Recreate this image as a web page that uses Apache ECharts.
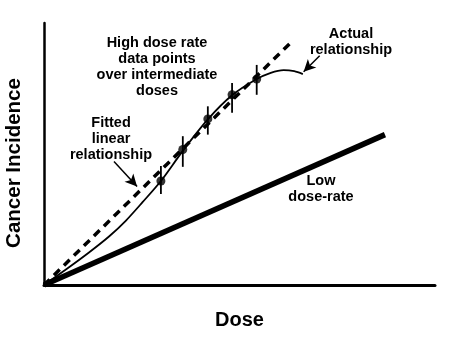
<!DOCTYPE html>
<html>
<head>
<meta charset="utf-8">
<script src="https://cdn.jsdelivr.net/npm/echarts@6/dist/echarts.min.js"></script>
<style>
  html, body { margin: 0; padding: 0; background: #fff; }
  #chart { width: 462px; height: 352px; }
</style>
</head>
<body>
<div id="chart"></div>
<script>
// dose / incidence in arbitrary units (0-100)
const fittedLine = [[0, 0], [63.3, 92.8]];
const lowDoseLine = [[0, 0], [87.2, 57.4]];
const actualCurve = [
  [0, 0], [5.6, 5.9], [11.5, 12.4], [16.7, 18.6], [20.9, 24.5], [25.2, 31.6],
  [29.9, 39.7], [35.5, 51.2], [41.9, 63.2], [48.1, 72.4], [54.4, 78.6],
  [58.0, 81.0], [61.3, 82.0], [64.0, 81.6], [66.2, 80.5]
];
const pointDose = [29.9, 35.5, 41.9, 48.1, 54.4];
const pointValue = [39.7, 51.7, 63.4, 72.6, 78.6];
const errLow = [34.7, 45.1, 57.4, 65.7, 72.6];
const errHigh = [45.4, 56.8, 68.2, 77.1, 84.0];
const arrowFitted = [[17.9, 47.1], [23.8, 37.6]];
const arrowActual = [[70.5, 87.5], [66.4, 81.4]];

const font = '"Liberation Sans", Arial, Helvetica, sans-serif';
const labelStyle = {
  fontFamily: font, fontSize: 14.5, fontWeight: 'bold', fill: '#000',
  align: 'center', verticalAlign: 'middle', lineHeight: 16
};

const chart = echarts.init(document.getElementById('chart'));
chart.setOption({
  backgroundColor: '#fff',
  animation: false,
  grid: { left: 44, right: 27, top: 23, bottom: 67 },
  xAxis: {
    type: 'value', min: 0, max: 100,
    name: 'Dose', nameLocation: 'middle', nameGap: 25,
    nameTextStyle: { fontFamily: font, fontSize: 20, fontWeight: 'bold', color: '#000' },
    axisLine: { lineStyle: { color: '#000', width: 3 } },
    axisTick: { show: false }, axisLabel: { show: false }, splitLine: { show: false }
  },
  yAxis: {
    type: 'value', min: 0, max: 100,
    axisLine: { show: true, lineStyle: { color: '#000', width: 2.5 } },
    axisTick: { show: false }, axisLabel: { show: false }, splitLine: { show: false }
  },
  graphic: [
    { type: 'text', x: 14, y: 163, rotation: Math.PI / 2,
      style: { text: 'Cancer Incidence', fontFamily: font, fontSize: 20.5, fontWeight: 'bold',
        fill: '#000', align: 'center', verticalAlign: 'middle' } },
    { type: 'text', x: 157, y: 67,
      style: Object.assign({ text: 'High dose rate\ndata points\nover intermediate\ndoses' }, labelStyle) },
    { type: 'text', x: 111, y: 139,
      style: Object.assign({ text: 'Fitted\nlinear\nrelationship' }, labelStyle) },
    { type: 'text', x: 351, y: 42,
      style: Object.assign({ text: 'Actual\nrelationship' }, labelStyle) },
    { type: 'text', x: 321, y: 189,
      style: Object.assign({ text: 'Low\ndose-rate' }, labelStyle) }
  ],
  series: [
    {
      name: 'Low dose-rate', type: 'line', data: lowDoseLine, symbol: 'none',
      lineStyle: { color: '#000', width: 5.5 }
    },
    {
      name: 'Fitted linear', type: 'line', data: fittedLine, symbol: 'none',
      lineStyle: { color: '#000', width: 3.5, type: [8, 6] },
      markLine: {
        silent: true, symbol: ['none', 'arrow'], symbolSize: [9, 12],
        lineStyle: { color: '#000', width: 1.5, type: 'solid' }, label: { show: false },
        data: [
          [{ coord: arrowFitted[0] }, { coord: arrowFitted[1] }],
          [{ coord: arrowActual[0] }, { coord: arrowActual[1] }]
        ]
      }
    },
    {
      name: 'Actual', type: 'line', data: actualCurve, symbol: 'none', smooth: 0.3,
      lineStyle: { color: '#000', width: 1.8 }
    },
    {
      name: 'Error bars', type: 'custom',
      data: pointDose.map((d, i) => [d, errLow[i], errHigh[i]]),
      renderItem: function (params, api) {
        const a = api.coord([api.value(0), api.value(1)]);
        const b = api.coord([api.value(0), api.value(2)]);
        return { type: 'line', shape: { x1: a[0], y1: a[1], x2: b[0], y2: b[1] },
          style: { stroke: '#000', lineWidth: 1.8 } };
      }
    },
    {
      name: 'High dose rate', type: 'scatter', symbolSize: 9,
      data: pointDose.map((d, i) => [d, pointValue[i]]),
      itemStyle: { color: '#000' }
    }
  ]
});
</script>
</body>
</html>
